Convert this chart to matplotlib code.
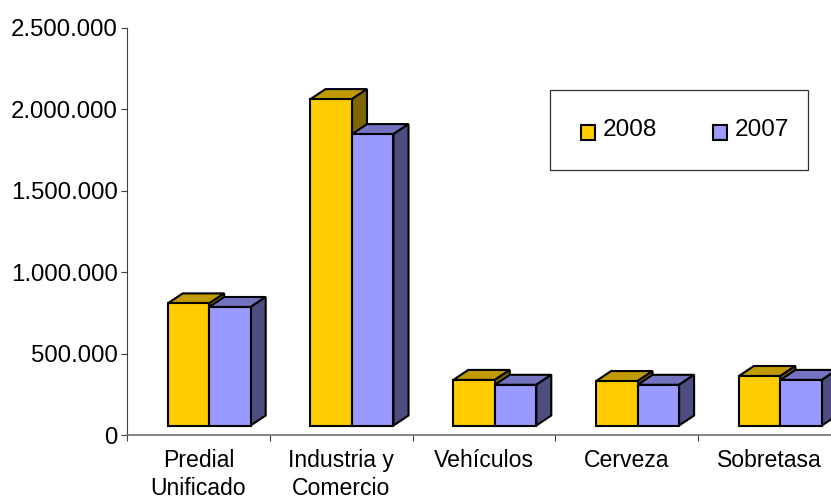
import numpy as np
import matplotlib
matplotlib.use('Agg')
import matplotlib.pyplot as plt
from matplotlib.legend_handler import HandlerPatch
from matplotlib.patches import Patch, Polygon, Rectangle

plt.rcParams['font.family'] = ['Liberation Sans', 'DejaVu Sans']

categories = ['Predial\nUnificado', 'Industria y\nComercio', 'Vehículos', 'Cerveza', 'Sobretasa']
values_2008 = [750000, 2005000, 280000, 273000, 304000]
values_2007 = [728000, 1790000, 250000, 250000, 280000]
y_ticks = [0, 500000, 1000000, 1500000, 2000000, 2500000]
y_tick_labels = ['0', '500.000', '1.000.000', '1.500.000', '2.000.000', '2.500.000']

W, H = 831, 498
fig = plt.figure(figsize=(W / 100, H / 100), dpi=100)
left, right, top, bottom = 127, 831, 28, 435
ax = fig.add_axes([left / W, 1 - bottom / H, (right - left) / W, (bottom - top) / H])

cat_px = 142.8
ax.set_xlim(0, (right - left) / cat_px)
ax.set_ylim(0, 2500000)
px_y = 2500000 / (bottom - top)

# 3d look, sizes converted from pixels to data units
dx = 15 / cat_px
dy = 10 * px_y
floor = 9.5 * px_y
bar_w = 41.5 / cat_px
start = 0.285


def draw_bar(x, val, front, roof, side, z):
    y0, y1 = floor, floor + val
    x1 = x + bar_w
    faces = [
        ([(x, y1), (x1, y1), (x1 + dx, y1 + dy), (x + dx, y1 + dy)], roof),
        ([(x1, y0), (x1 + dx, y0 + dy), (x1 + dx, y1 + dy), (x1, y1)], side),
        ([(x, y0), (x1, y0), (x1, y1), (x, y1)], front),
    ]
    for pts, color in faces:
        ax.add_patch(Polygon(pts, closed=True, facecolor=color, edgecolor='black',
                             linewidth=1.5, joinstyle='miter', zorder=z, clip_on=False))


# legend swatch sits a little lower than the default one
def low_swatch(legend, orig_handle, xdescent, ydescent, width, height, fontsize):
    return Rectangle((-xdescent, -ydescent - 0.2 * fontsize), width, height)


for i in range(len(categories)):
    draw_bar(i + start, values_2008[i], '#FFCC00', '#C09A00', '#806600', 3)
    draw_bar(i + start + bar_w, values_2007[i], '#9999FF', '#7373BF', '#4D4D80', 4)

for s in ['top', 'right']:
    ax.spines[s].set_visible(False)
ax.spines['left'].set_color('#404040')
ax.spines['bottom'].set_color('#707070')
ax.spines['left'].set_linewidth(0.8)
ax.spines['bottom'].set_linewidth(1.2)

ax.set_yticks(y_ticks)
ax.set_yticklabels(y_tick_labels, fontsize=17.3)
ax.tick_params(axis='y', length=4.3, width=0.8, color='#404040', pad=2.5)

ax.set_xticks(np.arange(0, 5))
ax.set_xticklabels([])
ax.tick_params(axis='x', which='major', length=4.3, width=0.8, color='#404040')
ax.set_xticks(np.arange(len(categories)) + 0.5, minor=True)
ax.set_xticklabels(categories, minor=True, fontsize=16.6, linespacing=1.26)
ax.tick_params(axis='x', which='minor', length=0, pad=10)

# legend box is drawn apart, its padding is not the same on each side
fig.add_artist(Rectangle((550 / W, 1 - 170 / H), 258 / W, 80 / H, transform=fig.transFigure,
                         facecolor='white', edgecolor='#303030', linewidth=0.9, zorder=5))
handles = [Patch(facecolor='#FFCC00', edgecolor='black', linewidth=1.5, label='2008'),
           Patch(facecolor='#9999FF', edgecolor='black', linewidth=1.5, label='2007')]
leg = fig.legend(handles=handles, ncol=2, loc='upper left',
                 bbox_to_anchor=(581 / W, 1 - 119 / H), borderaxespad=0, borderpad=0,
                 fontsize=17.6, frameon=False,
                 handlelength=0.58, handleheight=0.58,
                 handletextpad=0.3, columnspacing=2.3,
                 handler_map={Patch: HandlerPatch(patch_func=low_swatch)})
leg.set_zorder(6)

plt.savefig('out.png', dpi=100)
